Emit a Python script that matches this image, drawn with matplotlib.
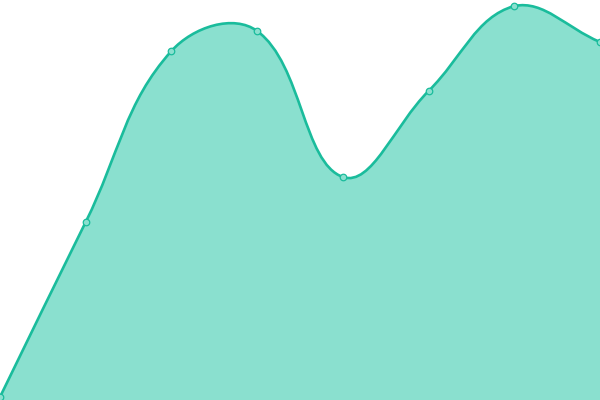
import numpy as np
import matplotlib
matplotlib.use('Agg')
import matplotlib.pyplot as plt
from matplotlib.path import Path
from matplotlib.patches import PathPatch

# values (axis 0..400, 8 evenly spaced points)
labels = ['1', '2', '3', '4', '5', '6', '7', '8']
values = [3, 178, 349, 369, 223, 309, 394, 358]

line_color = '#1abc9c'
fill_color = '#8ae0cf'
tension = 0.4

W, H = 600, 400
fig = plt.figure(figsize=(6, 4), dpi=100)
ax = fig.add_axes([0, 0, 1, 1])
ax.set_xlim(0, len(values) - 1)
ax.set_ylim(0, 400)
ax.axis('off')

# work in pixel space for the spline (chart.js style control points)
xs = np.arange(len(values), dtype=float)
pts = ax.transData.transform(np.column_stack([xs, values]))


def spline_ctrl(p0, p1, p2, t):
    d01 = np.hypot(*(p1 - p0))
    d12 = np.hypot(*(p2 - p1))
    tot = d01 + d12
    s01 = d01 / tot if tot else 0
    s12 = d12 / tot if tot else 0
    fa, fb = t * s01, t * s12
    return p1 - fa * (p2 - p0), p1 + fb * (p2 - p0)


n = len(pts)
prev_c, next_c = [], []
for i in range(n):
    p0 = pts[max(i - 1, 0)]
    p2 = pts[min(i + 1, n - 1)]
    a, b = spline_ctrl(p0, pts[i], p2, tension)
    a = np.clip(a, [0, 0], [W, H])
    b = np.clip(b, [0, 0], [W, H])
    prev_c.append(a)
    next_c.append(b)

verts = [pts[0]]
codes = [Path.MOVETO]
for i in range(1, n):
    verts += [next_c[i - 1], prev_c[i], pts[i]]
    codes += [Path.CURVE4] * 3

inv = ax.transData.inverted()
verts_d = inv.transform(np.array(verts))

# area fill
base = ax.transData.transform([[xs[-1], 0], [xs[0], 0]])
fill_verts = np.vstack([verts_d, inv.transform(base), verts_d[:1]])
fill_codes = codes + [Path.LINETO, Path.LINETO, Path.CLOSEPOLY]
ax.add_patch(PathPatch(Path(fill_verts, fill_codes), facecolor=fill_color,
                       edgecolor='none', zorder=1))
ax.add_patch(PathPatch(Path(verts_d, codes), facecolor='none',
                       edgecolor=line_color, lw=1.9, zorder=2,
                       capstyle='round', joinstyle='round'))

ax.scatter(xs, values, s=22, facecolor=fill_color, edgecolor=line_color,
           linewidth=0.9, zorder=3, clip_on=False)

fig.savefig('out.png', dpi=100)
